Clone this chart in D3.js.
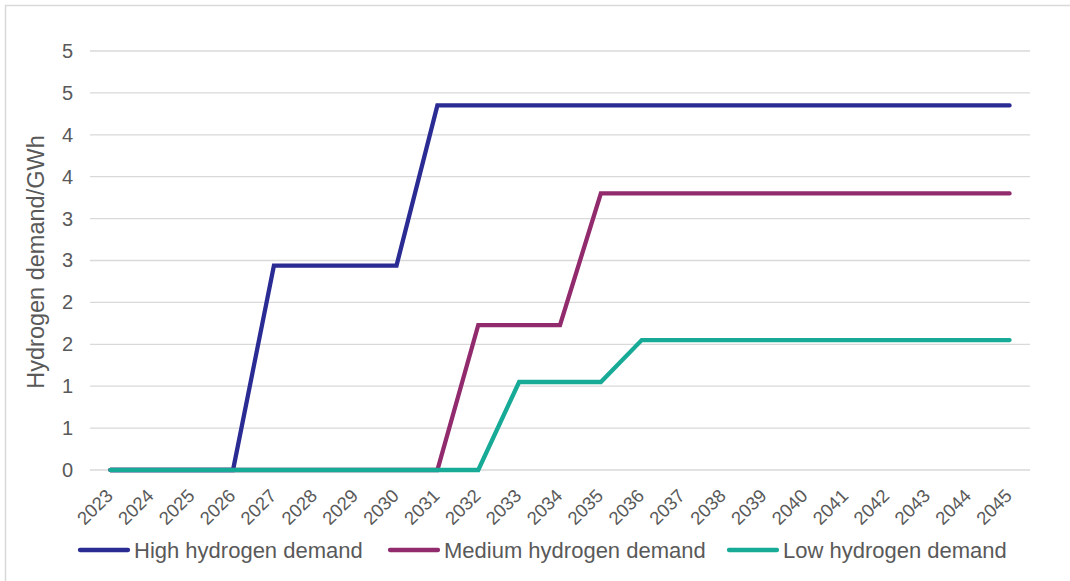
<!DOCTYPE html>
<html>
<head>
<meta charset="utf-8">
<script src="https://cdn.jsdelivr.net/npm/d3@7"></script>
<style>
  html, body { margin: 0; padding: 0; background: #fff; }
  svg { display: block; font-family: "Liberation Sans", Arial, sans-serif; }
</style>
</head>
<body>
<svg id="chart" width="1070" height="581"></svg>
<script>
// Years on the category axis
const years = ["2023","2024","2025","2026","2027","2028","2029","2030","2031","2032","2033",
  "2034","2035","2036","2037","2038","2039","2040","2041","2042","2043","2044","2045"];

// Hydrogen demand (GWh) per scenario
const highDemand   = [0,0,0,0,2.44,2.44,2.44,2.44,4.35,4.35,4.35,4.35,4.35,4.35,4.35,4.35,4.35,4.35,4.35,4.35,4.35,4.35,4.35];
const mediumDemand = [0,0,0,0,0,0,0,0,0,1.73,1.73,1.73,3.3,3.3,3.3,3.3,3.3,3.3,3.3,3.3,3.3,3.3,3.3];
const lowDemand    = [0,0,0,0,0,0,0,0,0,0,1.05,1.05,1.05,1.55,1.55,1.55,1.55,1.55,1.55,1.55,1.55,1.55,1.55];

const seriesNames  = ["High hydrogen demand", "Medium hydrogen demand", "Low hydrogen demand"];
const seriesColors = ["#2b2b94", "#912b6e", "#17aa97"];

// Value axis ticks every 0.5, labelled with zero decimals
const yTicks = [0,0.5,1,1.5,2,2.5,3,3.5,4,4.5,5];
const yTitle = "Hydrogen demand/GWh";

const series = [highDemand, mediumDemand, lowDemand];

const svg = d3.select("#chart");
const textColor = "#595959";

// outer frame
svg.append("rect")
  .attr("x", 5.5).attr("y", 5.5)
  .attr("width", 1100).attr("height", 620)
  .attr("fill", "none").attr("stroke", "#d9d9d9").attr("stroke-width", 1.5);

const plot = { left: 90, right: 1030, top: 51, bottom: 470 };

const x = d3.scalePoint().domain(years).range([plot.left, plot.right]).padding(0.5);
const y = d3.scaleLinear().domain([0, 5]).range([plot.bottom, plot.top]);

// Excel-style half-up rounding for the tick labels
const fmt = v => String(Math.floor(v + 0.5));

// gridlines
svg.append("g")
  .selectAll("line")
  .data(yTicks)
  .join("line")
  .attr("x1", plot.left).attr("x2", plot.right)
  .attr("y1", d => y(d)).attr("y2", d => y(d))
  .attr("stroke", "#d9d9d9").attr("stroke-width", 1.3);

// y axis labels
const yAxis = d3.axisLeft(y).tickValues(yTicks).tickFormat(fmt).tickSize(0).tickPadding(0);
const gy = svg.append("g").attr("transform", `translate(73,0)`).call(yAxis);
gy.select(".domain").remove();
gy.selectAll("text")
  .attr("fill", textColor)
  .style("font-size", "20px");

// x axis labels, rotated
const xAxis = d3.axisBottom(x).tickSize(0).tickPadding(0);
const gx = svg.append("g").attr("transform", `translate(0,${plot.bottom})`).call(xAxis);
gx.select(".domain").remove();
gx.selectAll("text")
  .attr("fill", textColor)
  .style("font-size", "18.5px")
  .attr("text-anchor", "end")
  .attr("dy", null)
  .attr("y", 0)
  .attr("transform", "translate(3,27) rotate(-45)");

// y axis title
svg.append("text")
  .attr("transform", `translate(44,262) rotate(-90)`)
  .attr("text-anchor", "middle")
  .attr("fill", textColor)
  .style("font-size", "23.5px")
  .text(yTitle);

// series lines
const line = d3.line()
  .x((d, i) => x(years[i]))
  .y(d => y(d));

svg.append("g")
  .selectAll("path")
  .data(series)
  .join("path")
  .attr("d", d => line(d))
  .attr("fill", "none")
  .attr("stroke", (d, i) => seriesColors[i])
  .attr("stroke-width", 4.3)
  .attr("stroke-linejoin", "miter")
  .attr("stroke-linecap", "round");

// legend
const legendX = [78, 388, 727];
const legend = svg.append("g")
  .selectAll("g")
  .data(seriesNames)
  .join("g")
  .attr("transform", (d, i) => `translate(${legendX[i]},550)`);
legend.append("line")
  .attr("x1", 2).attr("x2", 50).attr("y1", 0).attr("y2", 0)
  .attr("stroke", (d, i) => seriesColors[i])
  .attr("stroke-width", 4.3).attr("stroke-linecap", "round");
legend.append("text")
  .attr("x", 56).attr("y", 7.5)
  .attr("fill", textColor)
  .style("font-size", "22px")
  .text(d => d);
</script>
</body>
</html>
